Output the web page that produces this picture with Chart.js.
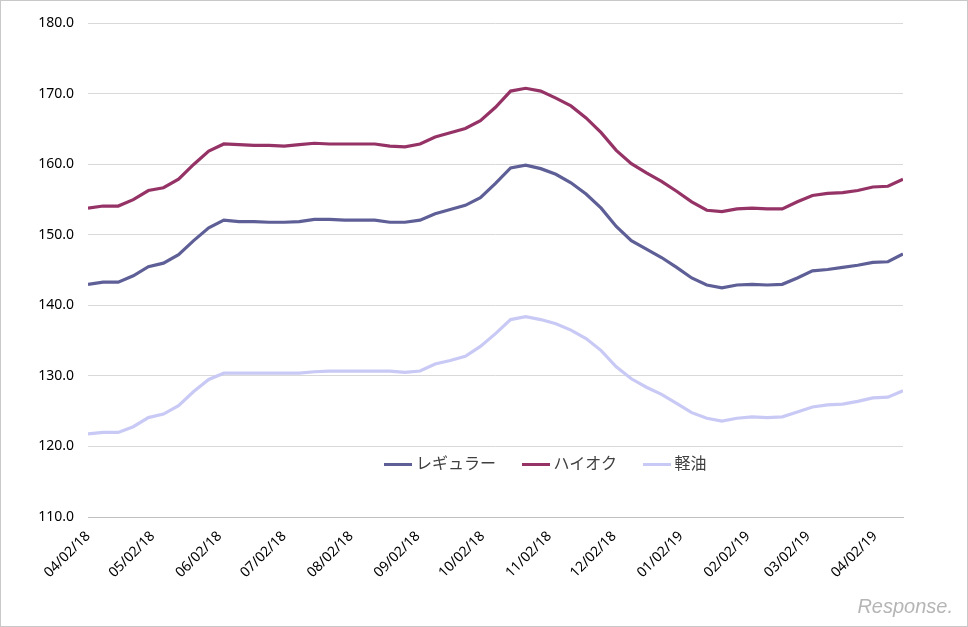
<!DOCTYPE html>
<html>
<head>
<meta charset="utf-8">
<script src="https://cdn.jsdelivr.net/npm/chart.js@4/dist/chart.umd.min.js"></script>
<style>
  html, body { margin: 0; padding: 0; background: #fff; }
  #wrap { position: relative; width: 966px; height: 625px; border: 1px solid #c8c8c8; }
  #legend { position: absolute; left: 383px; top: 449px; font: 16px "Noto Sans CJK JP", sans-serif; color: #404040; }
  #legend span { display: inline-block; margin-right: 22px; }
  #legend i { display: inline-block; width: 28px; height: 3px; vertical-align: middle; margin-right: 4px; }
  #mark { position: absolute; right: 14px; bottom: 8px; font: italic 20px "Liberation Sans", sans-serif; color: #b5b5b5; }
</style>
</head>
<body>
<div id="wrap">
  <canvas id="c" width="966" height="625"></canvas>
  <div id="legend">
    <span><i style="background:#5f5f97"></i>レギュラー</span>
    <span><i style="background:#953366"></i>ハイオク</span>
    <span><i style="background:#c9c9f5"></i>軽油</span>
  </div>
  <div id="mark">Response.</div>
</div>
<script>
// weekly survey, days counted from 2018-04-02
const monthDays = [0, 30, 61, 91, 122, 153, 183, 214, 244, 275, 306, 334, 365];
const monthLabels = ["04/02/18", "05/02/18", "06/02/18", "07/02/18", "08/02/18", "09/02/18",
  "10/02/18", "11/02/18", "12/02/18", "01/02/19", "02/02/19", "03/02/19", "04/02/19"];

const regular = [143.0,143.3,143.3,144.2,145.5,146.0,147.2,149.2,151.0,152.1,151.9,151.9,151.8,151.8,
  151.9,152.2,152.2,152.1,152.1,152.1,151.8,151.8,152.1,153.0,153.6,154.2,155.3,157.3,159.5,159.9,
  159.4,158.6,157.4,155.8,153.8,151.2,149.2,148.0,146.8,145.4,143.9,142.9,142.5,142.9,143.0,142.9,
  143.0,143.9,144.9,145.1,145.4,145.7,146.1,146.2,147.3];
const highOctane = [153.8,154.1,154.1,155.0,156.3,156.7,157.9,160.0,161.9,162.9,162.8,162.7,162.7,162.6,
  162.8,163.0,162.9,162.9,162.9,162.9,162.6,162.5,162.9,163.9,164.5,165.1,166.2,168.1,170.4,170.8,
  170.4,169.4,168.3,166.6,164.5,162.0,160.1,158.8,157.6,156.2,154.7,153.5,153.3,153.7,153.8,153.7,
  153.7,154.7,155.6,155.9,156.0,156.3,156.8,156.9,157.9];
const diesel = [121.8,122.0,122.0,122.8,124.1,124.6,125.8,127.8,129.5,130.4,130.4,130.4,130.4,130.4,
  130.4,130.6,130.7,130.7,130.7,130.7,130.7,130.5,130.7,131.7,132.2,132.8,134.2,136.0,138.0,138.4,
  138.0,137.4,136.5,135.3,133.6,131.3,129.6,128.4,127.4,126.1,124.8,124.0,123.6,124.0,124.2,124.1,
  124.2,124.9,125.6,125.9,126.0,126.4,126.9,127.0,127.9];

function toPoints(values) {
  return values.map((v, i) => ({ x: i * 7, y: v }));
}

function makeSet(label, values, color) {
  return {
    label,
    data: toPoints(values),
    borderColor: color,
    borderWidth: 3.2,
    pointRadius: 0,
    tension: 0
  };
}

const tickFont = { family: "Noto Sans", size: 14 };

new Chart(document.getElementById("c"), {
  type: "line",
  data: {
    datasets: [
      makeSet("レギュラー", regular, "#5f5f97"),
      makeSet("ハイオク", highOctane, "#953366"),
      makeSet("軽油", diesel, "#c9c9f5")
    ]
  },
  options: {
    responsive: false,
    animation: false,
    layout: { padding: { left: 8, right: 64, top: 14, bottom: 0 } },
    plugins: { legend: { display: false }, tooltip: { enabled: false } },
    scales: {
      x: {
        type: "linear",
        min: 0,
        max: 378,
        afterBuildTicks: (axis) => { axis.ticks = monthDays.map((v) => ({ value: v })); },
        afterFit: (axis) => { axis.height = 109; },
        ticks: {
          autoSkip: false,
          minRotation: 45,
          maxRotation: 45,
          color: "#000",
          font: tickFont,
          callback: (v) => monthLabels[monthDays.indexOf(v)]
        },
        grid: { display: false },
        border: { color: "#bfbfbf" }
      },
      y: {
        min: 110,
        max: 180,
        afterFit: (axis) => { axis.width = 79; },
        ticks: {
          stepSize: 10,
          color: "#000",
          font: tickFont,
          padding: 14,
          callback: (v) => v.toFixed(1)
        },
        grid: { color: "#d9d9d9", drawTicks: false },
        border: { display: false }
      }
    }
  }
});
</script>
</body>
</html>
